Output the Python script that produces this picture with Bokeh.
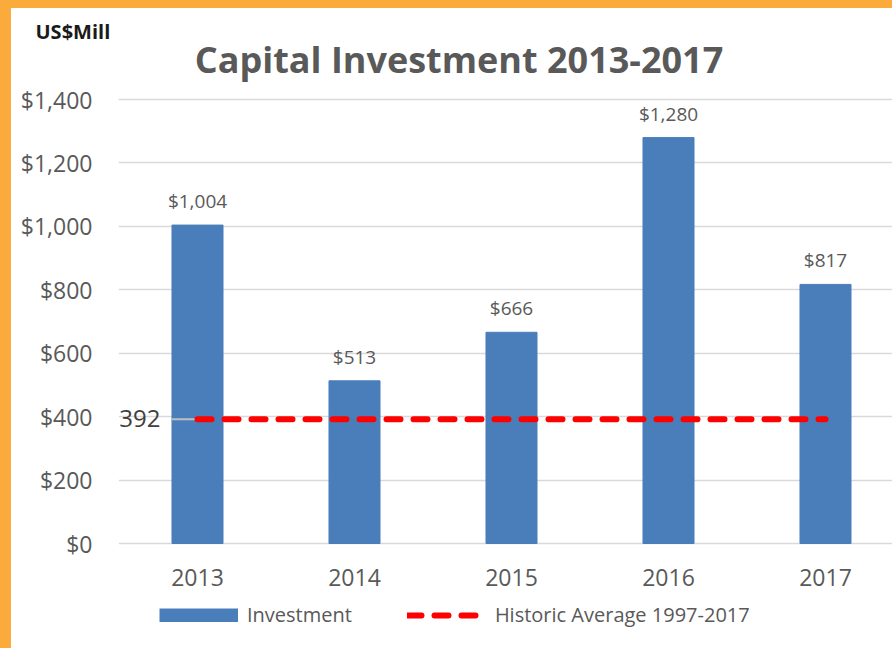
from bokeh.plotting import figure
from bokeh.models import (Range1d, ColumnDataSource, LabelSet, Label, Title,
                          Legend, LegendItem, FixedTicker, NumeralTickFormatter,
                          Spacer)
from bokeh.layouts import column, row
from bokeh.embed import file_html
from bokeh.resources import INLINE
from bokeh.core.properties import value

# ---- data ----
years = [2013, 2014, 2015, 2016, 2017]
year_labels = ["2013", "2014", "2015", "2016", "2017"]
investment = [1004, 513, 666, 1280, 817]
investment_labels = ["$1,004", "$513", "$666", "$1,280", "$817"]
historic_average = 392
historic_label = "392"
y_ticks = [0, 200, 400, 600, 800, 1000, 1200, 1400]
title_text = "Capital Investment 2013-2017"
unit_text = "US$Mill"
series_names = ["Investment", "Historic Average 1997-2017"]

FONT = "Open Sans"
GREY = "#595959"
BLUE = "#4A7EBB"
RED = "#FF0000"
ORANGE = "#FAAB3C"

# ---- layout (page pixels) ----
PAGE_W, PAGE_H = 892, 648
ox, oy = 11, 8                           # orange frame strips (left, top)
W, H = PAGE_W - ox, PAGE_H - oy
frame_left, frame_top = 118 - ox, 44 - oy
zero_px, top_tick_px = 543 - oy, 99 - oy   # rows of $0 and $1,400
step_px = 157.0                              # pixels between years
first_px = 197 - ox                          # column of first year
ppu = (zero_px - top_tick_px) / (y_ticks[-1] - y_ticks[0])
bar_w = 0.325

x_start = years[0] - (first_px - frame_left) / step_px
x_end = x_start + (W - frame_left) / step_px
y_start = y_ticks[0] - (H - zero_px) / ppu
y_end = y_ticks[-1] + (top_tick_px - frame_top) / ppu

p = figure(width=W, height=H, output_backend="svg", toolbar_location=None,
           title=None, x_axis_location=None,
           x_range=Range1d(x_start, x_end), y_range=Range1d(y_start, y_end),
           min_border_left=frame_left, min_border_right=0,
           min_border_top=frame_top, min_border_bottom=0)
p.outline_line_color = None
p.background_fill_color = "white"
p.border_fill_color = "white"

src = ColumnDataSource(dict(x=years, top=investment, lab=investment_labels,
                            yl=year_labels, zero=[0] * len(years)))
bars = p.vbar(x="x", top="top", bottom=0, width=bar_w, source=src,
              fill_color=BLUE, line_color=BLUE)

# leader line of the average's data label
p.segment(x0=[years[0] - bar_w / 2], y0=[historic_average],
          x1=[years[0]], y1=[historic_average],
          line_color="#BFBFBF", line_width=2)
avg_line = p.line(x=years, y=[historic_average] * len(years),
                  line_color=RED, line_width=6, line_dash="14 13",
                  line_cap="round")
# legend swatch for the bars (full-size block like the original; draws nothing)
nan = float("nan")
bar_swatch = p.line(x=[nan], y=[nan], line_color=BLUE, line_width=14,
                    line_cap="butt")

# data labels
p.add_layout(LabelSet(x="x", y="top", text="lab", source=src, y_offset=17,
                      text_align="center", text_baseline="alphabetic",
                      text_font=value(FONT), text_font_size="19px",
                      text_color=GREY))
# category labels
p.add_layout(LabelSet(x="x", y="zero", text="yl", source=src, y_offset=-42,
                      text_align="center", text_baseline="alphabetic",
                      text_font=value(FONT), text_font_size="23px",
                      text_color=GREY))

p.add_layout(Label(x=years[0], y=historic_average, text=historic_label,
                   x_offset=-37, y_offset=1, text_align="right",
                   text_baseline="alphabetic",
                   text_font=FONT, text_font_size="24px",
                   text_color="#404040"))

# title
p.add_layout(Label(x=x_start + (458.5 - ox - frame_left) / step_px,
                   y=(zero_px - (59 - oy)) / ppu, text=title_text,
                   text_align="center", text_baseline="alphabetic",
                   text_font=FONT, text_font_size="36px",
                   text_font_style="bold", text_color=GREY))

# y axis
p.yaxis.ticker = FixedTicker(ticks=y_ticks)
p.yaxis.formatter = NumeralTickFormatter(format="$0,0")
p.yaxis.axis_line_color = None
p.yaxis.major_tick_line_color = None
p.yaxis.minor_tick_line_color = None
p.yaxis.major_tick_out = 0
p.yaxis.major_tick_in = 0
p.yaxis.major_label_text_font = FONT
p.yaxis.major_label_text_font_size = "23px"
p.yaxis.major_label_text_color = GREY
p.yaxis.major_label_standoff = 26

p.xgrid.grid_line_color = None
p.ygrid.ticker = FixedTicker(ticks=y_ticks)
p.ygrid.grid_line_color = "#D9D9D9"
p.ygrid.grid_line_width = 1.5

# unit caption
p.add_layout(Title(text=unit_text, align="left", offset=(35 - ox) - frame_left,
                   text_font=FONT, text_font_size="20px",
                   text_font_style="bold", text_color="#1A1A1A", standoff=0), "above")

legend = Legend(items=[LegendItem(label=series_names[0], renderers=[bar_swatch]),
                       LegendItem(label=series_names[1], renderers=[avg_line])],
                orientation="horizontal", location=(159 - 118, 20),
                label_text_font=FONT, label_text_font_size="20px",
                label_text_color=GREY, glyph_width=79, glyph_height=14,
                label_standoff=9, spacing=55, padding=0, margin=0,
                border_line_color=None, background_fill_alpha=0)
p.add_layout(legend, "center")

top_strip = Spacer(width=PAGE_W, height=oy, styles={"background-color": ORANGE})
left_strip = Spacer(width=ox, height=H, styles={"background-color": ORANGE})
page = column(top_strip, row(left_strip, p, spacing=0), spacing=0)

open("out.html", "w").write(file_html(page, INLINE))
